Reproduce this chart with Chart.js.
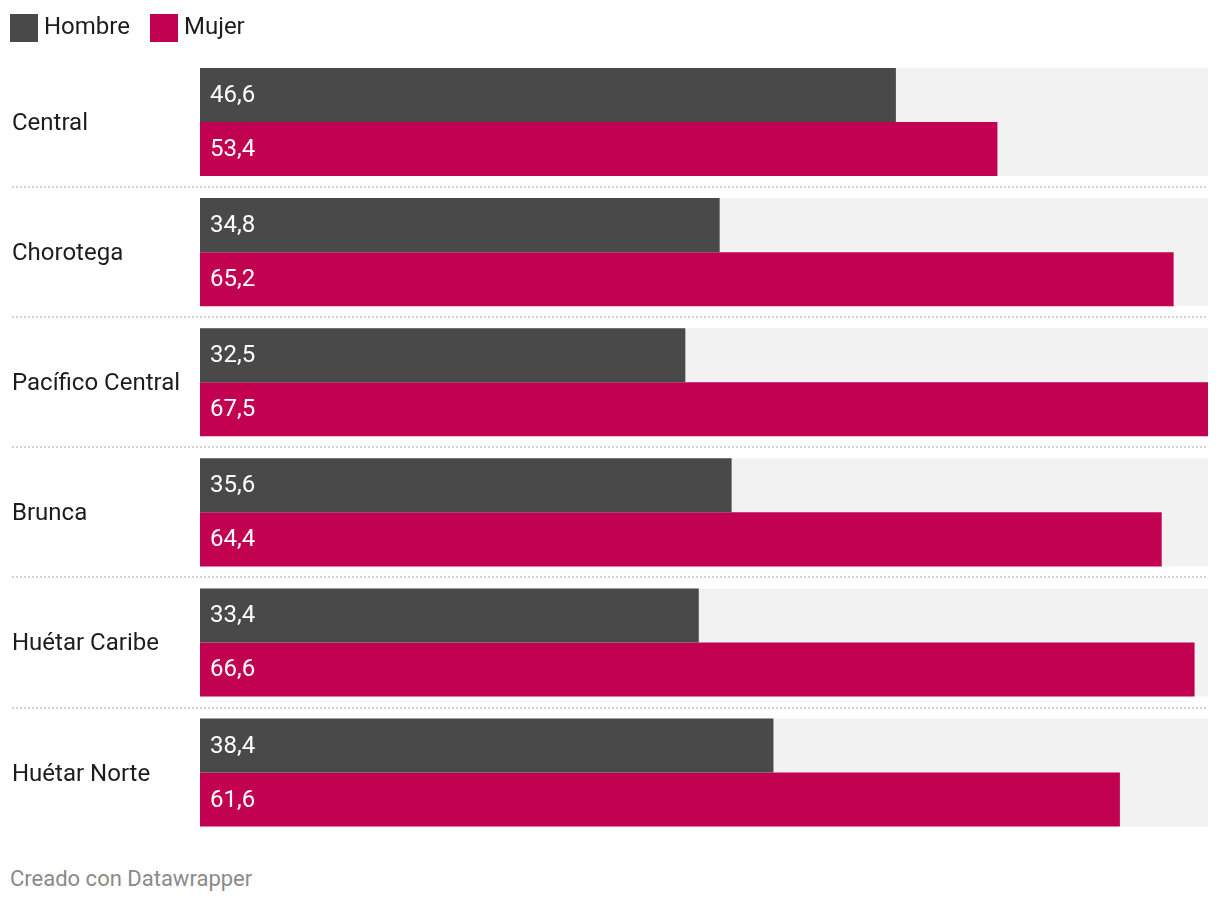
<!DOCTYPE html>
<html><head><meta charset="utf-8">
<script src="https://cdn.jsdelivr.net/npm/chart.js@4.4.1/dist/chart.umd.min.js"></script>
<style>
html,body{margin:0;padding:0;background:#fff;}
#wrap{position:absolute;left:0;top:0;width:1220px;height:852px;}
#legend{position:absolute;left:10px;top:14px;height:28px;font-family:Roboto,sans-serif;font-size:24px;color:#1d1d1d;display:flex;align-items:center;}
#legend .it{display:flex;align-items:center;margin-right:20px;}
#legend .sw{width:28px;height:28px;margin-right:6px;}
#legend span{position:relative;top:-2px;}
#foot{position:absolute;left:10px;top:866px;font-family:Roboto,sans-serif;font-size:22px;color:#8a8a8a;}
</style></head>
<body>
<div id="wrap"><canvas id="c"></canvas></div>
<div id="legend"></div>
<div id="foot">Creado con Datawrapper</div>
<script>
const categories = ['Central','Chorotega','Pacífico Central','Brunca','Huétar Caribe','Huétar Norte'];
const hombre = [46.6,34.8,32.5,35.6,33.4,38.4];
const mujer = [53.4,65.2,67.5,64.4,66.6,61.6];
const seriesNames = ['Hombre','Mujer'];
const seriesColors = ['#494949','#c20150'];

const FONT = 'Roboto, sans-serif';
const xMax = Math.max(...hombre, ...mujer);

const bgPlugin = {
  id:'bgBars',
  beforeDatasetsDraw(chart){
    const ctx = chart.ctx, xs = chart.scales.x;
    const m0 = chart.getDatasetMeta(0).data, m1 = chart.getDatasetMeta(1).data;
    ctx.save();
    ctx.fillStyle = '#f2f2f2';
    m0.forEach((b,i)=>{
      const top = b.y - b.height/2;
      const bot = m1[i].y + m1[i].height/2;
      ctx.fillRect(xs.left, top, xs.right - xs.left, bot - top);
    });
    ctx.strokeStyle = '#d2d2d2';
    ctx.lineWidth = 2;
    ctx.setLineDash([2,2]);
    const ys = chart.scales.y;
    for(let i=0;i<categories.length-1;i++){
      const y = Math.round((ys.getPixelForValue(i)+ys.getPixelForValue(i+1))/2);
      ctx.beginPath();
      ctx.moveTo(12, y);
      ctx.lineTo(xs.right, y);
      ctx.stroke();
    }
    ctx.restore();
  }
};
const labelPlugin = {
  id:'valLabels',
  afterDatasetsDraw(chart){
    const ctx = chart.ctx;
    ctx.save();
    ctx.fillStyle = '#ffffff';
    ctx.font = '24px ' + FONT;
    ctx.textAlign = 'left';
    ctx.textBaseline = 'middle';
    chart.data.datasets.forEach((ds,di)=>{
      chart.getDatasetMeta(di).data.forEach((b,i)=>{
        ctx.fillText(ds.data[i].toFixed(1).replace('.',','), b.base + 10, b.y + 1);
      });
    });
    ctx.restore();
  }
};

const chart = new Chart(document.getElementById('c'), {
  type:'bar',
  data:{
    labels: categories,
    datasets:[
      {label:seriesNames[0], data:hombre, backgroundColor:seriesColors[0]},
      {label:seriesNames[1], data:mujer, backgroundColor:seriesColors[1]}
    ]
  },
  plugins:[bgPlugin, labelPlugin],
  options:{
    indexAxis:'y',
    responsive:true,
    maintainAspectRatio:false,
    animation:false,
    layout:{padding:{left:12,right:12,top:57,bottom:8}},
    datasets:{bar:{categoryPercentage:108/130, barPercentage:1.0, borderWidth:0}},
    scales:{
      x:{display:false, min:0, max:xMax},
      y:{
        grid:{display:false, drawTicks:false},
        border:{display:false},
        afterFit(s){ s.width = 188; },
        ticks:{crossAlign:'far', color:'#1d1d1d', font:{family:FONT, size:24}, padding:0, labelOffset:2}
      }
    },
    plugins:{
      legend:{display:false},
      tooltip:{enabled:false}
    }
  }
});

const leg = document.getElementById('legend');
chart.data.datasets.forEach(ds=>{
  const it = document.createElement('div'); it.className='it';
  const sw = document.createElement('div'); sw.className='sw'; sw.style.background = ds.backgroundColor;
  const tx = document.createElement('span'); tx.textContent = ds.label;
  it.appendChild(sw); it.appendChild(tx); leg.appendChild(it);
});
</script>
</body></html>
